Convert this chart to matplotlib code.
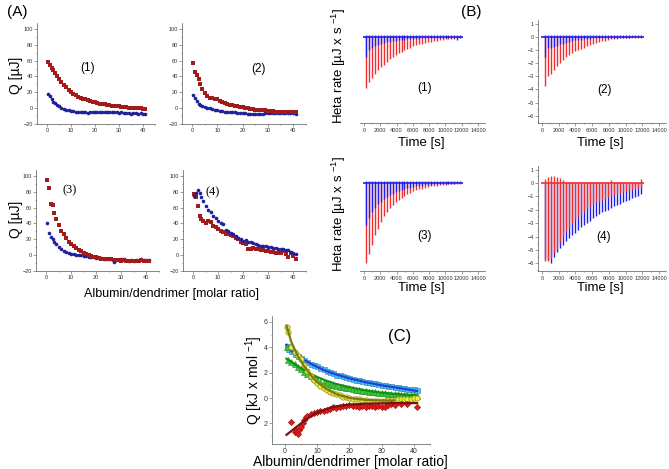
import numpy as np
import matplotlib
matplotlib.use("Agg")
from matplotlib import pyplot as plt
from matplotlib.ticker import MultipleLocator, FixedLocator, FixedFormatter

plt.rcParams['font.family'] = ['Liberation Sans', 'DejaVu Sans']
plt.rcParams['mathtext.fontset'] = 'custom'
plt.rcParams['mathtext.rm'] = 'Liberation Sans'
plt.rcParams['mathtext.it'] = 'Liberation Sans'

W, H = 669, 469

# ---------------- panel A data (molar ratio vs Q) ----------------
xa = [0.5, 1.2, 1.9, 2.6, 3.3, 4, 5, 6, 7, 8, 9, 10, 11, 12, 13, 14, 15, 16, 17, 18, 19, 20,
      21, 22, 23, 24, 25, 26, 27, 28, 29, 30, 31, 32, 33, 34, 35, 36, 37, 38, 39, 40, 41]

a1_red = [58, 54, 51, 48, 44, 41, 37, 33, 29, 26, 23, 20, 18, 16, 14.5, 13, 12, 11, 10, 9, 8, 7,
          6, 5.5, 5, 4.5, 4, 3.5, 3, 3, 2.5, 2, 1.5, 1, 1, 0.5, 0.5, 0, 0, -0.5, -0.5, -1, -1]
a1_blue = [18, 15, 11, 8, 6, 4, 2, 0, -1, -2, -3, -3.5, -4, -4.5, -4.5, -5, -5, -5.5, -6.5, -5.5, -5, -5,
           -5, -5, -5, -5, -5.5, -5, -5.5, -5.5, -5.5, -6, -5.5, -6, -6.5, -6, -7, -6.5, -6, -7, -6.5, -7, -7]

a2_red = [57, 45, 42, 37, 30, 24, 19, 15, 13, 12.5, 12, 11, 9.5, 8, 6.5, 5, 4, 3.5, 3, 2, 1.5, 1,
          0, -0.5, -1, -1.5, -2, -2, -2.5, -3, -3, -3.5, -4, -4, -4.5, -4.5, -5, -5, -5, -5.5, -5.5, -5, -5.5]
a2_blue = [17, 13, 9, 5, 3.5, 2, 1, 0.5, 0, -1, -2, -3, -3.5, -4, -4.5, -5, -5, -5.5, -5.5, -6, -6, -6.5,
           -6.5, -7, -7, -7.5, -7.5, -7.5, -7, -7, -6.5, -6.5, -6, -6, -6, -6.5, -6, -6, -6.5, -6, -6, -6.5, -7.5]

a3_red = [95, 85, 65, 63, 53, 45, 38, 31, 26, 21, 17, 14, 11, 8.5, 6.5, 4.5, 3, 1.5, 0, -1, -2, -3,
          -4, -4.5, -5, -5, -5.5, -5.5, -6, -6, -6.5, -7, -6.5, -7, -7, -7.5, -7, -8, -7, -6.5, -7, -7.5, -7]
a3_blue = [40, 28, 23, 20, 17, 14, 10.5, 7.5, 5, 3.5, 2.5, 1.5, 1, 0.5, 0, -0.5, -1, -1.5, -2, -2.5, -3, -3.5,
           -4, -4, -4.5, -4.5, -5, -5, -9, -6, -6, -5, -5.5, -6, -7, -6.5, -7.5, -6.5, -6, -5.5, -6, -6.5, -6.5]

a4_red = [77, 73, 62, 50, 45, 43, 41, 43, 42, 37, 35, 33, 31, 29, 27, 26, 25, 24, 22, 20, 17, 15,
          14, 8, 8, 9, 8, 7, 6.5, 6, 5, 4.5, 4, 3.5, 3, 2, 2, 4.5, 1, -3, 2, -1, -5]
a4_blue = [75, 78, 82, 79, 73, 68, 62, 57, 54, 50, 47, 43, 40, 39, 32, 30, 28, 26, 24, 22, 20, 18,
           19, 17, 16, 15, 14, 13, 12, 11.5, 11, 10.5, 10, 9, 8.5, 8, 7, 7, 6, 6, 4, 3, 1.5]

# ---------------- panel B data (injection peaks) ----------------
tb = [300, 660, 1020, 1380, 1740, 2100, 2460, 2820, 3180, 3540, 3900, 4260, 4620, 4980, 5340, 5700, 6060,
      6420, 6780, 7140, 7500, 7860, 8220, 8580, 8940, 9300, 9660, 10020, 10380, 10740, 11100, 11460, 11820]

b1_red = [-3.9, -3.4, -3.1, -2.8, -2.55, -2.3, -2.1, -1.9, -1.7, -1.55, -1.4, -1.25, -1.12, -1.0, -0.9, -0.8, -0.72,
          -0.64, -0.57, -0.5, -0.45, -0.4, -0.35, -0.3, -0.27, -0.24, -0.21, -0.18, -0.16, -0.14, -0.12, -0.1, -0.08]
b1_blue = [-1.5, -1.0, -0.8, -0.7, -0.6, -0.5, -0.45, -0.4, -0.35, -0.3, -0.28, -0.25, -0.22, -0.2, -0.18, -0.16, -0.15,
           -0.13, -0.12, -0.1, -0.1, -0.08, -0.08, -0.07, -0.06, -0.06, -0.05, -0.05, -0.05, -0.05, -0.05, -0.2, -0.05]

b2_red = [-3.75, -2.95, -2.8, -2.5, -2.2, -1.95, -1.75, -1.55, -1.4, -1.25, -1.1, -1.0, -0.9, -0.8, -0.7, -0.6, -0.52,
          -0.45, -0.38, -0.32, -0.27, -0.22, -0.18, -0.15, -0.12, -0.1, -0.08, -0.07, -0.06, -0.05, -0.05, -0.04, -0.04]
b2_blue = [-1.5, -0.85, -0.8, -0.75, -0.65, -0.55, -0.5, -0.42, -0.36, -0.3, -0.26, -0.22, -0.19, -0.16, -0.14, -0.12, -0.1,
           -0.09, -0.08, -0.07, -0.06, -0.05, -0.05, -0.05, -0.04, -0.04, -0.04, -0.04, -0.04, -0.03, -0.03, -0.03, -0.03]

b3_red = [-6.0, -5.3, -4.6, -3.9, -3.4, -2.9, -2.5, -2.2, -1.9, -1.65, -1.45, -1.25, -1.1, -0.95, -0.83, -0.72, -0.62,
          -0.54, -0.47, -0.41, -0.35, -0.3, -0.26, -0.22, -0.19, -0.16, -0.14, -0.12, -0.1, -0.08, -0.07, -0.06, -0.05]
b3_blue = [-3.1, -2.6, -2.2, -1.9, -1.6, -1.4, -1.2, -1.05, -0.9, -0.8, -0.7, -0.6, -0.52, -0.45, -0.4, -0.35, -0.3,
           -0.26, -0.22, -0.19, -0.16, -0.14, -0.12, -0.1, -0.08, -0.07, -0.06, -0.05, -0.05, -0.04, -0.04, -0.03, -0.03]

b4_red = [-5.8, -5.8, -5.6, -5.2, -4.9, -4.4, -4.0, -3.6, -3.3, -3.0, -2.7, -2.5, -2.3, -2.1, -1.9, -1.75, -1.6,
          -1.45, -1.35, -1.25, -1.15, -1.05, -0.95, -0.88, -0.8, -0.72, -0.65, -0.6, -0.55, -0.5, -0.45, -0.4, -0.35]
b4_red_top = [0.3, 0.45, 0.5, 0.5, 0.45, 0.35, 0.2, 0.1, 0.05, 0.05, 0.05, 0.05, 0.05, 0.05, 0.05, 0.05, 0.05,
              0.1, 0.05, 0.05, 0.05, 0.05, 0.2, 0.05, 0.05, 0.05, 0.1, 0.05, 0.05, 0.05, 0.05, 0.05, 0.3]
b4_blue = [-5.7, -5.75, -5.95, -5.5, -5.15, -4.85, -4.6, -4.35, -4.1, -3.9, -3.7, -3.5, -3.3, -3.1, -2.95, -2.8, -2.65,
           -2.5, -2.35, -2.2, -2.1, -2.0, -1.85, -1.75, -1.65, -1.55, -1.45, -1.35, -1.25, -1.15, -1.05, -0.95, -0.85]

# ---------------- panel C data ----------------
xc = [0.5, 1, 2, 3, 4, 5, 6, 7, 8, 9, 10, 11, 12, 13, 14, 15, 16, 17, 18, 19, 20,
      21, 22, 23, 24, 25, 26, 27, 28, 29, 30, 31, 32, 33, 34, 35, 36, 37, 38, 39, 40, 41]
c_cyan = [4.1, 3.9, 3.7, 3.5, 3.3, 3.15, 3.0, 2.85, 2.7, 2.6, 2.5, 2.35, 2.25, 2.15, 2.05, 1.95, 1.85, 1.8, 1.7, 1.65, 1.55,
          1.5, 1.45, 1.4, 1.35, 1.3, 1.25, 1.2, 1.15, 1.1, 1.05, 1.0, 0.97, 0.93, 0.9, 0.85, 0.8, 0.78, 0.74, 0.7, 0.68, 0.65]
c_green = [4.0, 3.0, 2.85, 2.65, 2.45, 2.25, 2.05, 1.9, 1.75, 1.6, 1.45, 1.3, 1.2, 1.15, 1.05, 1.0, 0.95, 0.9, 0.85, 0.8, 0.75,
           0.7, 0.65, 0.6, 0.57, 0.55, 0.5, 0.47, 0.45, 0.42, 0.4, 0.37, 0.35, 0.33, 0.3, 0.28, 0.26, 0.25, 0.22, 0.2, 0.2, 0.18]
c_yellow = [5.6, 5.2, 4.0, 3.6, 3.3, 3.1, 2.6, 2.1, 1.7, 1.4, 1.15, 0.95, 0.8, 0.65, 0.5, 0.4, 0.3, 0.2, 0.1, 0.05, 0.0,
            -0.05, -0.07, -0.1, -0.15, -0.15, -0.2, -0.2, -0.2, -0.2, -0.2, -0.2, -0.15, -0.2, -0.15, -0.1, -0.1, -0.05, -0.1, -0.05, 0.0, 0.0]
xr = [2, 3, 3.5, 4, 4.5, 5, 5.5, 6, 6.5, 7, 8, 9, 10, 11, 12, 13, 14, 15, 16, 17, 18, 19, 20,
      21, 22, 23, 24, 25, 26, 27, 28, 29, 30, 31, 32, 33, 34, 36, 38, 41]
c_red = [-1.9, -2.65, -2.5, -2.8, -2.55, -2.3, -2.0, -1.7, -1.5, -1.4, -1.25, -1.2, -1.1, -1.0, -1.0, -0.95, -0.85, -0.7, -0.75, -0.7, -0.65, -0.6, -0.55,
         -0.6, -0.6, -0.7, -0.65, -0.7, -0.6, -0.65, -0.7, -0.6, -0.7, -0.7, -0.55, -0.5, -0.55, -0.45, -0.45, -0.7]

xfit = [0.5, 2, 4, 6, 8, 10, 13, 16, 20, 25, 30, 35, 41]
fit_blue = [4.2, 3.7, 3.3, 3.0, 2.7, 2.45, 2.1, 1.85, 1.55, 1.25, 1.0, 0.8, 0.55]
fit_green = [3.1, 2.85, 2.5, 2.2, 1.9, 1.65, 1.35, 1.1, 0.85, 0.6, 0.42, 0.3, 0.2]
fit_red = [-2.9, -2.6, -2.2, -1.8, -1.45, -1.15, -0.85, -0.65, -0.52, -0.45, -0.42, -0.4, -0.4]
xfit_y = [0.5, 2, 4, 6, 8, 10, 13, 16, 20, 25, 30, 34]
fit_yellow = [5.7, 4.4, 3.3, 2.5, 1.8, 1.25, 0.7, 0.3, 0.0, -0.15, -0.2, -0.2]


def px(l, t, r, b):
    return [l / W, 1 - b / H, (r - l) / W, (b - t) / H]


def ftext(x, y, s, **kw):
    fig.text(x / W, 1 - y / H, s, ha='center', va='center', **kw)


def style(ax, left=True):
    ax.spines['top'].set_visible(False)
    ax.spines['right'].set_visible(False)
    ax.spines['left'].set_visible(left)
    for s in ax.spines.values():
        s.set_linewidth(0.5)
        s.set_color('#555555')
    ax.tick_params(which='both', direction='out', labelsize=4, width=0.4, color='#555555',
                   labelcolor='#333333', pad=1)
    ax.tick_params(which='major', length=2)
    ax.tick_params(which='minor', length=1)
    ax.set_facecolor('none')


fig = plt.figure(figsize=(W / 100, H / 100), dpi=100)

RED = '#a31a1a'
BLUE = '#1f1f9c'

# ---- panel A ----
a_pos = [px(37.4, 23.5, 155, 123.8), px(182, 23.5, 305.6, 123.8),
         px(36, 170.5, 158.5, 270.8), px(183, 170.5, 305.5, 270.8)]
a_data = [(a1_red, a1_blue), (a2_red, a2_blue), (a3_red, a3_blue), (a4_red, a4_blue)]
for i, pos in enumerate(a_pos):
    ax = fig.add_axes(pos)
    red, blue = a_data[i]
    if i == 3:
        ax.plot(xa, red, 's', color=RED, ms=2.2, mew=0)
        ax.plot(xa, blue, 'o', color=BLUE, ms=2.6, mew=0)
    else:
        ax.plot(xa, blue, 'o', color=BLUE, ms=2.6, mew=0)
        ax.plot(xa, red, 's', color=RED, ms=2.2, mew=0)
    ax.set_xlim(-4, 45)
    ax.set_ylim(-20, 107)
    ax.xaxis.set_major_locator(MultipleLocator(10))
    ax.xaxis.set_minor_locator(MultipleLocator(5))
    ax.yaxis.set_major_locator(MultipleLocator(20))
    ax.yaxis.set_minor_locator(MultipleLocator(10))
    style(ax)

ftext(17, 12, '(A)', fontsize=11)
ftext(16, 75, 'Q [µJ]', fontsize=10, rotation=90)
ftext(16, 219, 'Q [µJ]', fontsize=10, rotation=90)
ftext(172, 294, 'Albumin/dendrimer [molar ratio]', fontsize=9)
ftext(88, 68, '(1)', fontsize=8.5)
ftext(258, 69, '(2)', fontsize=8.5)
ftext(70, 190, '(3)', fontsize=9, family=['Liberation Serif', 'DejaVu Serif'])
ftext(213, 192, '(4)', fontsize=9, family=['Liberation Serif', 'DejaVu Serif'])

# ---- panel B ----
b_pos = [px(360, 20, 484.5, 123.5), px(538, 20, 665.7, 123.5),
         px(360, 165.6, 484.5, 271.4), px(538, 165.6, 665.7, 271.4)]
b_data = [(b1_red, b1_blue), (b2_red, b2_blue), (b3_red, b3_blue), (b4_red, b4_blue)]
BR = '#f03030'
BB = '#2020e8'
for i, pos in enumerate(b_pos):
    ax = fig.add_axes(pos)
    red, blue = b_data[i]
    if i == 3:
        ax.vlines(tb, 0, blue, color=BB, lw=1.0)
        ax.vlines(tb, red, b4_red_top, color=BR, lw=1.0)
        ax.hlines(0, -100, 12200, color=BR, lw=1.2)
    else:
        ax.vlines(tb, 0, red, color=BR, lw=1.0)
        ax.vlines(tb, blue, 0.12, color=BB, lw=1.0)
        ax.hlines(0, -100, 12200, color=BB, lw=1.2)
    ax.set_xlim(-480, 14800)
    ax.set_ylim(-6.6, 1.3)
    ax.xaxis.set_major_locator(MultipleLocator(2000))
    ax.xaxis.set_minor_locator(MultipleLocator(1000))
    ax.yaxis.set_major_locator(MultipleLocator(1))
    ax.yaxis.set_minor_locator(MultipleLocator(0.5))
    style(ax, left=(i % 2 == 1))
    if i % 2 == 0:
        ax.tick_params(axis='y', left=False, labelleft=False, which='both')

ftext(471, 12, '(B)', fontsize=11)
ftext(339, 66, 'Heta rate [µJ x s $^{-1}$]', fontsize=9.5, rotation=90)
ftext(339, 214, 'Heta rate [µJ x s $^{-1}$]', fontsize=9.5, rotation=90)
for (x, y) in [(421, 143), (600, 143), (421, 288), (600, 288)]:
    ftext(x, y, 'Time [s]', fontsize=9.5)
ftext(425, 88, '(1)', fontsize=8.5)
ftext(605, 90, '(2)', fontsize=8.5)
ftext(424, 236, '(3)', fontsize=8.5)
ftext(604, 237, '(4)', fontsize=8.5)

# ---- panel C ----
ax = fig.add_axes(px(272, 315.5, 430, 443.7))
ax.plot(xc, c_cyan, 's', color='#45c6e8', mec='#2a7fb0', mew=0.4, ms=3.6)
ax.plot(xfit, fit_blue, '-', color='#1f3fe0', lw=1.6)
ax.plot(xc, c_green, '^', color='#3cc83c', mec='#1a8a1a', mew=0.4, ms=3.8)
ax.plot(xfit, fit_green, '-', color='#139013', lw=1.6)
ax.plot(xc, c_yellow, 'o', color='#f0f040', mec='#8a8a10', mew=0.5, ms=3.8)
ax.plot(xfit_y, fit_yellow, '-', color='#7a7a10', lw=1.6)
ax.plot(xr, c_red, 'D', color='#e81818', mec='#901010', mew=0.4, ms=3.2)
ax.plot(xfit, fit_red, '-', color='#7a1010', lw=1.6)
ax.set_xlim(-4, 45)
ax.set_ylim(-3.6, 6.5)
ax.xaxis.set_major_locator(MultipleLocator(10))
ax.xaxis.set_minor_locator(MultipleLocator(5))
ax.yaxis.set_major_locator(FixedLocator([-2, 0, 2, 4, 6]))
ax.yaxis.set_major_formatter(FixedFormatter(['2', '0', '2', '4', '6']))
ax.yaxis.set_minor_locator(MultipleLocator(1))
style(ax)
ax.tick_params(labelsize=5)

ftext(400, 336, '(C)', fontsize=12)
ftext(254, 380, 'Q [kJ x mol $^{-1}$]', fontsize=10, rotation=90)
ftext(350, 462, 'Albumin/dendrimer [molar ratio]', fontsize=10)

fig.savefig('out.png', dpi=100)
